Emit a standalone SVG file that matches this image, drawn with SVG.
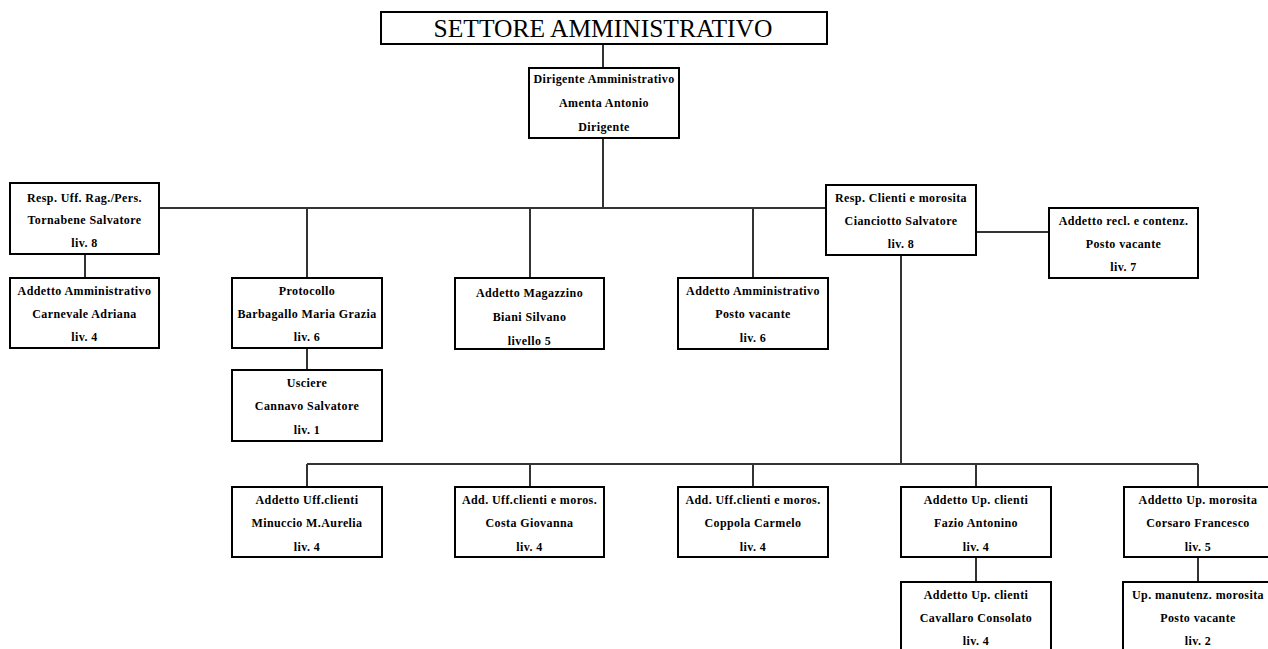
<svg xmlns="http://www.w3.org/2000/svg" width="1268" height="649" viewBox="0 0 1268 649">
<style>
.box{fill:#fff;stroke:#000;stroke-width:2}
.t{font-family:"Liberation Serif","Times New Roman",serif;font-weight:bold;font-size:12px;letter-spacing:0.4px;text-anchor:middle;fill:#000}
.title{font-family:"Liberation Serif","Times New Roman",serif;font-size:25.5px;text-anchor:middle;fill:#000}
.c{stroke:#333;stroke-width:2;fill:none}
</style>
<rect width="1268" height="649" fill="#fff"/>
<g id="connectors">
<path class="c" d="M603,44V68M603,138V208M159,208H826M307,208V278M530,208V278M753,208V278M85,254V278M307,348V370M976,232H1049M901,255V464M307,464H1198M307,464V487M530,464V487M753,464V487M976,464V487M1198,464V487M976,557V582M1198,557V582"/>
</g>
<g id="title"><rect class="box" x="381" y="12" width="446" height="32"/><text class="title" x="603" y="37">SETTORE AMMINISTRATIVO</text></g>
<g id="dirigente"><rect class="box" x="529" y="68" width="150" height="70"/><text class="t" x="604" y="83">Dirigente Amministrativo</text><text class="t" x="604" y="107">Amenta Antonio</text><text class="t" x="604" y="131">Dirigente</text></g>
<g id="resp-uff"><rect class="box" x="10" y="183" width="149" height="71"/><text class="t" x="84.5" y="202">Resp. Uff. Rag./Pers.</text><text class="t" x="84.5" y="224">Tornabene Salvatore</text><text class="t" x="84.5" y="247">liv. 8</text></g>
<g id="addetto-amm-1"><rect class="box" x="10" y="278" width="149" height="70"/><text class="t" x="84.5" y="295">Addetto Amministrativo</text><text class="t" x="84.5" y="318">Carnevale Adriana</text><text class="t" x="84.5" y="341">liv. 4</text></g>
<g id="protocollo"><rect class="box" x="232" y="278" width="150" height="70"/><text class="t" x="307" y="295">Protocollo</text><text class="t" x="307" y="318">Barbagallo Maria Grazia</text><text class="t" x="307" y="341">liv. 6</text></g>
<g id="usciere"><rect class="box" x="232" y="370" width="150" height="71"/><text class="t" x="307" y="387">Usciere</text><text class="t" x="307" y="410">Cannavo Salvatore</text><text class="t" x="307" y="434">liv. 1</text></g>
<g id="magazzino"><rect class="box" x="455" y="278" width="149" height="71"/><text class="t" x="529.5" y="297">Addetto Magazzino</text><text class="t" x="529.5" y="321">Biani Silvano</text><text class="t" x="529.5" y="345">livello 5</text></g>
<g id="addetto-amm-2"><rect class="box" x="678" y="278" width="150" height="71"/><text class="t" x="753" y="295">Addetto Amministrativo</text><text class="t" x="753" y="318">Posto vacante</text><text class="t" x="753" y="342">liv. 6</text></g>
<g id="resp-clienti"><rect class="box" x="826" y="185" width="150" height="70"/><text class="t" x="901" y="202">Resp. Clienti e morosita</text><text class="t" x="901" y="225">Cianciotto Salvatore</text><text class="t" x="901" y="248">liv. 8</text></g>
<g id="addetto-recl"><rect class="box" x="1049" y="208" width="149" height="70"/><text class="t" x="1123.5" y="225">Addetto recl. e contenz.</text><text class="t" x="1123.5" y="248">Posto vacante</text><text class="t" x="1123.5" y="271">liv. 7</text></g>
<g id="uff-clienti"><rect class="box" x="232" y="487" width="150" height="70"/><text class="t" x="307" y="504">Addetto Uff.clienti</text><text class="t" x="307" y="527">Minuccio M.Aurelia</text><text class="t" x="307" y="551">liv. 4</text></g>
<g id="costa"><rect class="box" x="455" y="487" width="149" height="70"/><text class="t" x="529.5" y="504">Add. Uff.clienti e moros.</text><text class="t" x="529.5" y="527">Costa Giovanna</text><text class="t" x="529.5" y="551">liv. 4</text></g>
<g id="coppola"><rect class="box" x="678" y="487" width="150" height="70"/><text class="t" x="753" y="504">Add. Uff.clienti e moros.</text><text class="t" x="753" y="527">Coppola Carmelo</text><text class="t" x="753" y="551">liv. 4</text></g>
<g id="fazio"><rect class="box" x="901" y="487" width="150" height="70"/><text class="t" x="976" y="504">Addetto Up. clienti</text><text class="t" x="976" y="527">Fazio Antonino</text><text class="t" x="976" y="551">liv. 4</text></g>
<g id="corsaro"><rect class="box" x="1124" y="487" width="149" height="70"/><text class="t" x="1198" y="504">Addetto Up. morosita</text><text class="t" x="1198" y="527">Corsaro Francesco</text><text class="t" x="1198" y="551">liv. 5</text></g>
<g id="cavallaro"><rect class="box" x="901" y="582" width="150" height="70"/><text class="t" x="976" y="599">Addetto Up. clienti</text><text class="t" x="976" y="622">Cavallaro Consolato</text><text class="t" x="976" y="645">liv. 4</text></g>
<g id="manutenz"><rect class="box" x="1123" y="582" width="150" height="70"/><text class="t" x="1198" y="599">Up. manutenz. morosita</text><text class="t" x="1198" y="622">Posto vacante</text><text class="t" x="1198" y="645">liv. 2</text></g>
</svg>
